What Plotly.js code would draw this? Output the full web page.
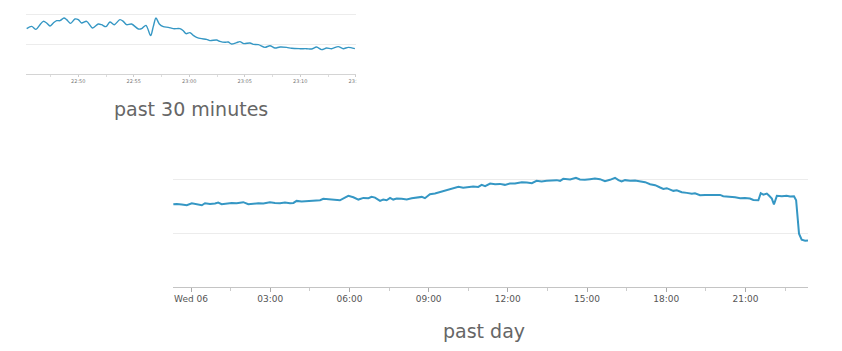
<!DOCTYPE html>
<html>
<head>
<meta charset="utf-8">
<script src="https://cdn.plot.ly/plotly-3.0.1.min.js"></script>
<style>
html,body{margin:0;padding:0;background:#fff;}
#chart{width:842px;height:351px;}
</style>
</head>
<body>
<div id="chart"></div>
<script>
// ---- past 30 minutes (x = minutes after 22:00) ----
const shortMinutes = [45.35,45.80,46.19,46.55,46.85,47.15,47.45,47.75,48.05,48.35,
  48.71,48.95,49.31,49.70,50.00,50.30,50.75,51.29,51.80,52.10,
  52.49,52.85,53.24,53.75,54.05,54.35,54.80,55.41,55.71,56.10,
  56.52,56.76,57.00,57.30,57.66,58.11,58.56,59.16,59.46,59.70,
  60.06,60.36,60.66,61.11,61.56,61.86,62.46,62.76,63.21,63.51,
  63.81,64.26,64.56,64.92,65.47,65.77,66.22,66.82,67.27,67.72,
  68.17,68.77,69.22,69.97,70.57,71.02,71.47,71.92,72.37,72.82,
  73.42,73.87,74.32,74.92];
const shortValues = [75.6,79.4,74.4,82.2,87.8,85.0,80.0,85.0,88.9,88.9,
  93.3,90.6,84.4,91.7,90.6,85.0,87.8,76.7,83.3,82.2,
  78.9,86.7,82.2,90.6,87.8,82.2,83.3,75.0,75.6,81.1,
  63.9,79.4,93.3,83.3,78.9,77.8,75.6,75.6,72.2,67.2,
  68.9,64.4,61.1,58.9,57.8,55.6,56.7,54.4,52.8,53.3,
  50.0,52.2,53.9,50.6,51.7,49.4,48.9,44.4,47.2,43.3,
  45.0,44.4,42.8,42.2,42.2,41.7,45.0,40.6,43.3,42.2,
  45.6,42.2,44.4,42.2];
const shortTickVals = [50,55,60,65,70,75];
const shortTickText = ["22:50","22:55","23:00","23:05","23:10","23:15"];
const shortMinorVals = [47.5,52.5,57.5,62.5,67.5,72.5];

// ---- past day (x = hours after Wed 06 00:00) ----
const dayHours = [-0.67,-0.54,-0.35,-0.16,0.03,0.22,0.41,0.53,0.72,0.91,
  1.03,1.16,1.35,1.54,1.73,1.86,1.98,2.17,2.36,2.55,
  2.74,2.99,3.18,3.37,3.56,3.75,3.88,4.00,4.19,4.38,
  4.57,4.76,4.89,5.01,5.14,5.27,5.45,5.64,5.83,5.96,
  6.15,6.34,6.53,6.72,6.84,6.97,7.16,7.28,7.41,7.54,
  7.66,7.79,7.98,8.17,8.36,8.55,8.74,8.86,9.05,9.24,
  9.43,9.62,9.81,10.00,10.13,10.31,10.50,10.69,10.88,11.01,
  11.14,11.33,11.52,11.70,11.89,12.08,12.27,12.53,12.72,12.91,
  13.09,13.28,13.47,13.66,13.85,13.98,14.10,14.36,14.58,14.73,
  14.92,15.11,15.30,15.49,15.68,15.87,16.06,16.19,16.31,16.44,
  16.63,16.82,17.01,17.20,17.39,17.58,17.77,17.89,18.02,18.14,
  18.27,18.40,18.59,18.78,18.97,19.09,19.28,19.47,19.66,19.85,
  20.04,20.16,20.42,20.61,20.80,20.98,21.17,21.30,21.49,21.58,
  21.68,21.81,21.89,22.00,22.08,22.19,22.38,22.56,22.69,22.84,
  22.92,22.97,23.03,23.13,23.26,23.37];
const dayValues = [76.9,77.2,76.6,75.9,77.8,77.2,75.9,77.8,77.2,77.5,
  78.4,76.9,77.5,78.1,77.8,78.4,78.8,76.9,77.5,77.8,
  77.5,78.8,78.1,77.8,78.4,77.8,78.1,80.0,79.4,79.7,
  80.6,80.9,80.6,81.9,81.6,80.9,
  80.6,80.6,83.1,84.7,83.4,81.25,82.8,82.5,83.75,83.1,
  80.0,81.25,80.6,82.8,81.25,82.2,81.9,81.25,82.5,83.1,
  83.75,82.5,86.25,86.9,88.1,89.4,90.6,91.9,93.1,92.2,
  93.1,93.4,93.1,95.0,93.75,96.25,
  95.6,95.9,95.0,96.25,96.25,97.5,97.2,96.6,98.75,98.1,
  98.75,99.1,99.4,98.75,100.6,100.0,101.6,100.0,99.7,100.3,
  100.9,100.3,98.4,99.7,101.6,99.4,98.1,99.4,98.75,99.1,
  98.4,97.5,95.6,
  94.7,92.5,91.25,91.9,90.9,89.4,90.0,88.1,87.5,86.6,
  87.2,85.3,85.6,85.6,85.0,85.6,84.4,84.1,83.4,82.5,
  82.8,82.2,80.9,80.6,87.2,85.9,86.9,85.0,82.2,76.6,
  84.7,84.4,84.7,84.1,84.4,80.6,61.9,49.4,43.75,42.8,
  43.1];
const dayTickVals = [0,3,6,9,12,15,18,21];
const dayTickText = ["Wed 06","03:00","06:00","09:00","12:00","15:00","18:00","21:00"];
const dayMinorVals = [1.5,4.5,7.5,10.5,13.5,16.5,19.5,22.5];

const gridVals = [50,100];
const titles = ["past 30 minutes","past day"];

const W = 842, H = 351;
const px = v => v / W;
const py = v => 1 - v / H;
const LINE = '#3597c4';

const traces = [
  {x: shortMinutes, y: shortValues, xaxis: 'x', yaxis: 'y', type: 'scatter', mode: 'lines',
   line: {color: LINE, width: 1.4, shape: 'spline', smoothing: 0.8}, hoverinfo: 'skip'},
  {x: dayHours, y: dayValues, xaxis: 'x2', yaxis: 'y2', type: 'scatter', mode: 'lines',
   line: {color: LINE, width: 2}, hoverinfo: 'skip'}
];

const yCommon = {range: [0, 110], tickmode: 'array', tickvals: gridVals, showticklabels: false,
  ticks: '', gridcolor: '#ececec', gridwidth: 1, zeroline: false, showline: false, fixedrange: true};

const layout = {
  width: W, height: H,
  margin: {l: 0, r: 0, t: 0, b: 0, pad: 0},
  paper_bgcolor: '#fff', plot_bgcolor: '#fff',
  showlegend: false,
  xaxis: {domain: [px(26), px(356)], anchor: 'y', range: [45.29, 75.02],
    tickmode: 'array', tickvals: shortTickVals, ticktext: shortTickText,
    ticks: 'outside', ticklen: 2, tickwidth: 1, tickcolor: '#ccc',
    minor: {tickmode: 'array', tickvals: shortMinorVals, ticks: 'outside', ticklen: 2, tickcolor: '#ddd', showgrid: false},
    showgrid: false, zeroline: false, showline: true, linecolor: '#d4d4d4', linewidth: 1,
    tickfont: {family: 'DejaVu Sans', size: 5, color: '#777'}},
  yaxis: Object.assign({}, yCommon, {domain: [py(74), py(8)], anchor: 'x'}),
  xaxis2: {domain: [px(173), px(808)], anchor: 'y2', range: [-0.682, 23.37],
    tickmode: 'array', tickvals: dayTickVals, ticktext: dayTickText,
    ticks: 'outside', ticklen: 4, tickwidth: 1, tickcolor: '#aaa',
    minor: {tickmode: 'array', tickvals: dayMinorVals, ticks: 'outside', ticklen: 3, tickcolor: '#ccc', showgrid: false},
    showgrid: false, zeroline: false, showline: true, linecolor: '#c4c4c4', linewidth: 1,
    tickfont: {family: 'DejaVu Sans', size: 9, color: '#555'}},
  yaxis2: Object.assign({}, yCommon, {domain: [py(286.5), py(168.8)], anchor: 'x2'}),
  shapes: [
    {type: 'rect', xref: 'paper', yref: 'paper', x0: px(357), x1: px(380), y0: py(90), y1: py(76),
     fillcolor: '#fff', line: {width: 0}, layer: 'above'}
  ],
  annotations: [
    {text: titles[0], xref: 'paper', yref: 'paper', x: px(190.5), y: py(109), xanchor: 'center', yanchor: 'middle',
     showarrow: false, font: {family: 'DejaVu Sans', size: 19, color: '#666'}},
    {text: titles[1], xref: 'paper', yref: 'paper', x: px(483.5), y: py(331), xanchor: 'center', yanchor: 'middle',
     showarrow: false, font: {family: 'DejaVu Sans', size: 19, color: '#666'}}
  ]
};

Plotly.newPlot('chart', traces, layout, {displayModeBar: false, staticPlot: true});
</script>
</body>
</html>
